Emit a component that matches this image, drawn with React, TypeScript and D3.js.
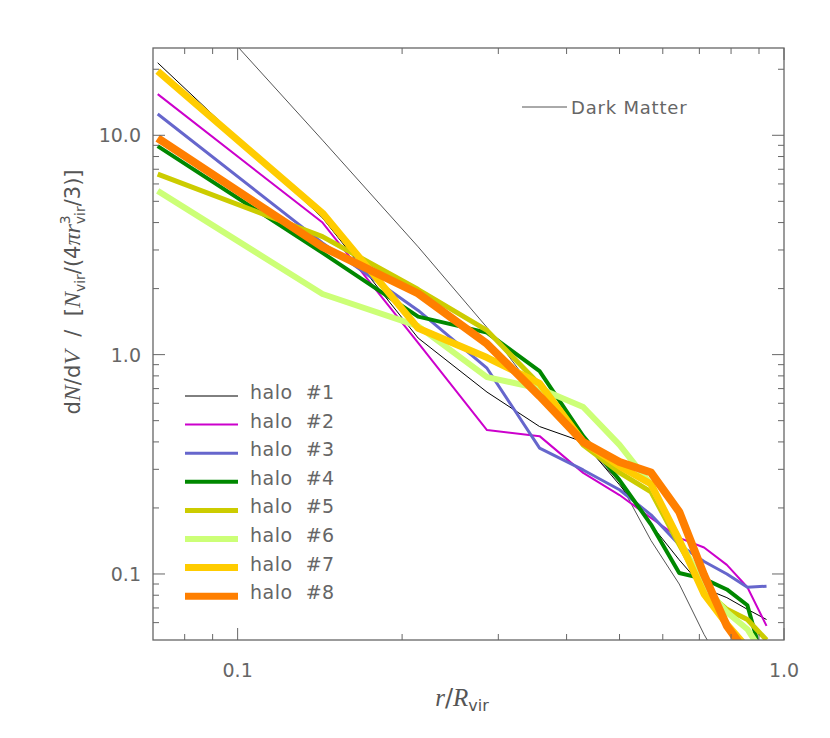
import React from 'react';
import * as d3 from 'd3';

// radial bins (r / R_vir)
const rBins = [0.0714, 0.143, 0.214, 0.286, 0.357, 0.429, 0.5, 0.571, 0.643, 0.714, 0.786, 0.857, 0.929];

const darkMatter = [64, 9.5, 3.1, 1.33, 0.64, 0.395, 0.262, 0.142, 0.09, 0.053, 0.035, 0.025, 0.017];

const halo1 = [21.4, 4.2, 1.19, 0.675, 0.47, 0.40, 0.255, 0.168, 0.116, 0.086, 0.078, 0.069, 0.062];
const halo2 = [15.4, 4.0, 1.13, 0.453, 0.425, 0.289, 0.229, 0.18, 0.146, 0.132, 0.110, 0.087, 0.058];
const halo3 = [12.5, 3.23, 1.59, 0.867, 0.375, 0.298, 0.242, 0.186, 0.136, 0.114, 0.10, 0.087, 0.088];
const halo4 = [8.93, 2.91, 1.49, 1.26, 0.84, 0.425, 0.268, 0.168, 0.101, 0.095, 0.085, 0.072, 0.035];
const halo5 = [6.65, 3.45, 1.98, 1.29, 0.73, 0.387, 0.29, 0.237, 0.136, 0.085, 0.069, 0.062, 0.05];
const halo6 = [5.58, 1.89, 1.35, 0.79, 0.70, 0.577, 0.388, 0.255, 0.143, 0.089, 0.067, 0.056, 0.041];
const halo7 = [19.6, 4.42, 1.32, 0.97, 0.74, 0.40, 0.31, 0.257, 0.143, 0.081, 0.059, 0.046, 0.035];
const halo8 = [9.7, 3.1, 1.9, 1.12, 0.647, 0.40, 0.324, 0.29, 0.192, 0.099, 0.058, 0.043, 0.03];

const haloNames = ['halo #1', 'halo #2', 'halo #3', 'halo #4', 'halo #5', 'halo #6', 'halo #7', 'halo #8'];
const haloColors = ['#000000', '#cc00cc', '#6666cc', '#008800', '#cccc00', '#ccff77', '#ffcc00', '#ff7f00'];
const haloWidths = [1, 2, 3, 4, 5, 6, 7, 8];
const haloData = [halo1, halo2, halo3, halo4, halo5, halo6, halo7, halo8];

const xMajor = [0.1, 1.0];
const xMinor = [0.08, 0.09, 0.2, 0.3, 0.4, 0.5, 0.6, 0.7, 0.8, 0.9];
const yMajor = [0.1, 1.0, 10.0];
const yMinor = [0.06, 0.07, 0.08, 0.09, 0.2, 0.3, 0.4, 0.5, 0.6, 0.7, 0.8, 0.9, 2, 3, 4, 5, 6, 7, 8, 9, 20];

const W = 830, H = 738;
const left = 153, right = 784, top = 48, bottom = 640;
const axisColor = '#666';
const font = '"DejaVu Sans", sans-serif';
const serif = '"Liberation Serif", serif';

const App = () => {
    const x = d3.scaleLog().domain([0.07, 1.0]).range([left, right]);
    const y = d3.scaleLog().domain([0.05, 25]).range([bottom, top]);
    const line = d3.line<number>()
        .x((d, i) => x(rBins[i]))
        .y(d => y(d));

    return (
        <svg width={W} height={H} style={{ position: 'absolute', left: 0, top: 0, background: '#fff' }}>
            <defs>
                <clipPath id="plotArea">
                    <rect x={left} y={top} width={right - left} height={bottom - top} />
                </clipPath>
            </defs>

            <g clipPath="url(#plotArea)" fill="none">
                <path d={line(darkMatter) || ''} stroke="#555" strokeWidth={1} />
                {haloData.map((vals, i) => (
                    <path key={i} d={line(vals) || ''} stroke={haloColors[i]}
                        strokeWidth={haloWidths[i]} strokeLinejoin="round" />
                ))}
            </g>

            {/* frame */}
            <rect x={left} y={top} width={right - left} height={bottom - top}
                fill="none" stroke={axisColor} strokeWidth={1.3} />

            {/* x ticks */}
            {xMajor.concat(xMinor).map((v, i) => {
                const len = xMajor.includes(v) ? 12 : 6;
                const px = x(v);
                return (
                    <g key={'xt' + i} stroke={axisColor} strokeWidth={1}>
                        <line x1={px} x2={px} y1={bottom} y2={bottom - len} />
                        <line x1={px} x2={px} y1={top} y2={top + len} />
                    </g>
                );
            })}
            {/* y ticks */}
            {yMajor.concat(yMinor).map((v, i) => {
                const len = yMajor.includes(v) ? 12 : 6;
                const py = y(v);
                return (
                    <g key={'yt' + i} stroke={axisColor} strokeWidth={1}>
                        <line x1={left} x2={left + len} y1={py} y2={py} />
                        <line x1={right} x2={right - len} y1={py} y2={py} />
                    </g>
                );
            })}

            {/* tick labels */}
            {xMajor.map((v, i) => (
                <text key={'xl' + i} x={x(v)} y={677} textAnchor="middle" fontFamily={font}
                    fontSize={19} fill={axisColor}>{v.toFixed(1)}</text>
            ))}
            {yMajor.map((v, i) => (
                <text key={'yl' + i} x={141} y={y(v) + 7} textAnchor="end" fontFamily={font}
                    fontSize={19} fill={axisColor}>{v.toFixed(1)}</text>
            ))}

            {/* x title */}
            <text x={462} y={706} textAnchor="middle" fontSize={25} fill="#555" fontFamily={serif}>
                <tspan fontStyle="italic">r</tspan>
                <tspan fontFamily={font} fontSize={24}>/</tspan>
                <tspan fontStyle="italic">R</tspan>
                <tspan fontFamily={font} fontSize={16} dy={5}>vir</tspan>
            </text>

            {/* y title */}
            <text transform="translate(80, 292) rotate(-90)" textAnchor="middle" fontSize={21}
                fill="#555" fontFamily={font}>
                <tspan>d</tspan>
                <tspan fontFamily={serif} fontStyle="italic" fontSize={24}>N</tspan>
                <tspan>/d</tspan>
                <tspan fontFamily={serif} fontStyle="italic" fontSize={24}>V</tspan>
                <tspan>{'\u00a0\u00a0/\u00a0\u00a0['}</tspan>
                <tspan fontFamily={serif} fontStyle="italic" fontSize={24}>N</tspan>
                <tspan fontSize={14} dy={5}>vir</tspan>
                <tspan dy={-5}>/(4</tspan>
                <tspan fontFamily={serif} fontStyle="italic" fontSize={24}>πr</tspan>
                <tspan fontSize={14} dy={-10}>3</tspan>
                <tspan fontSize={14} dx={-9} dy={15}>vir</tspan>
                <tspan dy={-5}>/3)]</tspan>
            </text>

            {/* dark matter legend */}
            <line x1={522} x2={567} y1={107} y2={107} stroke="#555" strokeWidth={1} />
            <text x={571} y={114} fontFamily={font} fontSize={18} fill={axisColor}
                letterSpacing={0.8}>Dark Matter</text>

            {/* halo legend */}
            {haloNames.map((name, i) => {
                const ly = 396 + i * 28.6;
                return (
                    <g key={'lg' + i}>
                        <line x1={185} x2={238} y1={ly} y2={ly} stroke={haloColors[i]}
                            strokeWidth={Math.min(haloWidths[i], 7)} />
                        <text x={250} y={ly + 3} fontFamily={font} fontSize={19} fill={axisColor}
                            letterSpacing={0.5}>{name.replace(' ', '\u00a0\u00a0')}</text>
                    </g>
                );
            })}
        </svg>
    );
};

export default App;
